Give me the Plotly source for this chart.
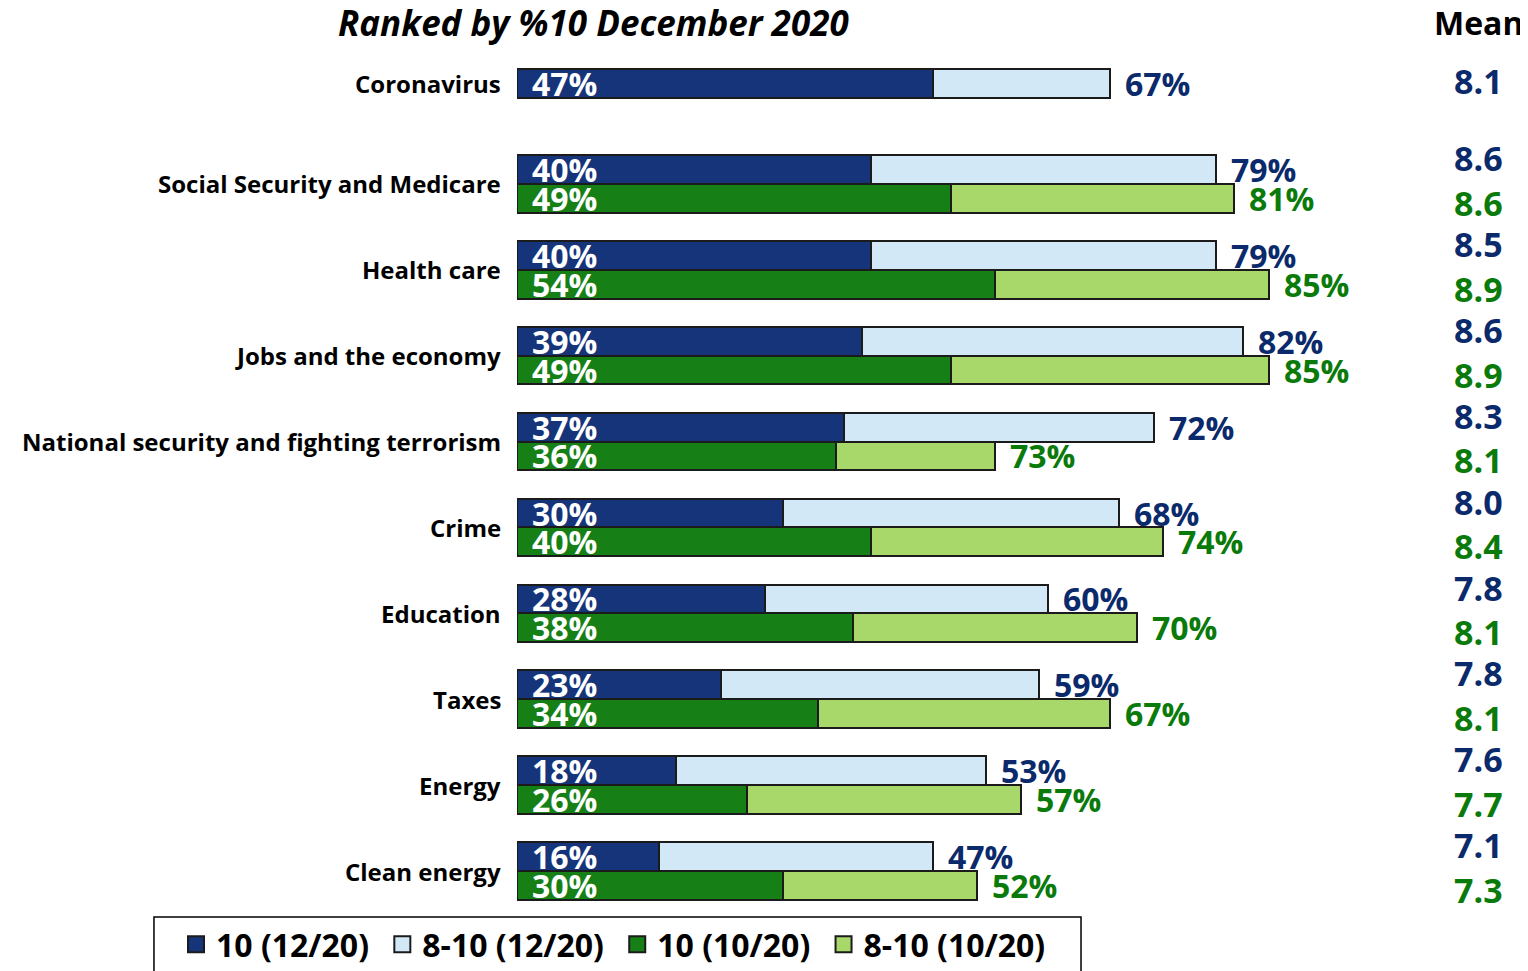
import plotly.graph_objects as go

categories = ["Coronavirus", "Social Security and Medicare", "Health care",
              "Jobs and the economy", "National security and fighting terrorism",
              "Crime", "Education", "Taxes", "Energy", "Clean energy"]
dec_10 = [47, 40, 40, 39, 37, 30, 28, 23, 18, 16]
dec_8_10 = [67, 79, 79, 82, 72, 68, 60, 59, 53, 47]
oct_10 = [None, 49, 54, 49, 36, 40, 38, 34, 26, 30]
oct_8_10 = [None, 81, 85, 85, 54, 73, 70, 67, 57, 52]          # bar lengths as drawn
dec_8_10_labels = ["67%", "79%", "79%", "82%", "72%", "68%", "60%", "59%", "53%", "47%"]
oct_8_10_labels = ["", "81%", "85%", "85%", "73%", "74%", "70%", "67%", "57%", "52%"]
mean_dec = [8.1, 8.6, 8.5, 8.6, 8.3, 8.0, 7.8, 7.8, 7.6, 7.1]
mean_oct = [None, 8.6, 8.9, 8.9, 8.1, 8.4, 8.1, 8.1, 7.7, 7.3]
legend_names = ["10 (12/20)", "8-10 (12/20)", "10 (10/20)", "8-10 (10/20)"]

FONT = "Open Sans"
C_DB, C_LB, C_DG, C_LG = "#16347a", "#d3e8f7", "#168016", "#a8d86a"
T_BLUE, T_GREEN = "#0b2a6b", "#0a7a0a"
D, W = 0.168, 0.335
VAL = 32

idx = list(range(len(categories)))
has_oct = [v is not None for v in oct_10]
yb = [i - D for i in idx]
yg = [i + D for i, h in zip(idx, has_oct) if h]
og10 = [v for v in oct_10 if v is not None]
og810 = [v for v in oct_8_10 if v is not None]

line = dict(color="#1b1b1b", width=2)
colors = [C_DB, C_LB, C_DG, C_LG]
fig = go.Figure()
fig.add_bar(y=yb, x=dec_10, orientation="h", width=W, showlegend=False,
            marker=dict(color=C_DB, line=line))
fig.add_bar(y=yb, x=[t - d for t, d in zip(dec_8_10, dec_10)], orientation="h", width=W,
            showlegend=False, marker=dict(color=C_LB, line=line))
fig.add_bar(y=yg, x=og10, orientation="h", width=W, showlegend=False,
            marker=dict(color=C_DG, line=line))
fig.add_bar(y=yg, x=[t - d for t, d in zip(og810, og10)], orientation="h", width=W,
            showlegend=False, marker=dict(color=C_LG, line=line))
# legend entries (square swatches)
for k, (name, col) in enumerate(zip(legend_names, colors)):
    pad = "\u00a0" if k < len(legend_names) - 1 else ""
    fig.add_scatter(x=[None], y=[None], mode="markers", name=name + pad,
                    marker=dict(symbol="square", size=20, color=col,
                                line=dict(color="#1b1b1b", width=2)))


def f(size, color, **kw):
    return dict(family=FONT, size=size, color=color, weight="bold", **kw)


ann = []
for i, c in enumerate(categories):
    ycat = i if has_oct[i] else i - D
    ann.append(dict(x=0, y=ycat, text=c, showarrow=False, xanchor="right", xshift=-14,
                    font=f(24, "black")))
for i in idx:
    ann.append(dict(x=0, y=yb[i], text=f"{dec_10[i]}%", showarrow=False, xanchor="left",
                    xshift=13, font=f(VAL, "white")))
    ann.append(dict(x=dec_8_10[i], y=yb[i], text=dec_8_10_labels[i], showarrow=False,
                    xanchor="left", xshift=13, font=f(VAL, T_BLUE)))
    ann.append(dict(x=1.0859, xref="paper", y=(i - 0.3) if has_oct[i] else (i - 0.2),
                    text=f"{mean_dec[i]:.1f}", showarrow=False, xanchor="center",
                    font=f(34, T_BLUE)))
    if has_oct[i]:
        ann.append(dict(x=0, y=i + D, text=f"{oct_10[i]}%", showarrow=False, xanchor="left",
                        xshift=13, font=f(VAL, "white")))
        ann.append(dict(x=oct_8_10[i], y=i + D, text=oct_8_10_labels[i], showarrow=False,
                        xanchor="left", xshift=13, font=f(VAL, T_GREEN)))
        ann.append(dict(x=1.0859, xref="paper", y=i + 0.22, text=f"{mean_oct[i]:.1f}",
                        showarrow=False, xanchor="center", font=f(34, T_GREEN)))

ann.append(dict(x=1.0859, xref="paper", y=1.0375, yref="paper", text="Mean", showarrow=False,
                xanchor="center", yanchor="middle", font=f(32, "black")))
ann.append(dict(x=0.0859, xref="paper", y=1.0375, yref="paper",
                text="Ranked by %10 December 2020", showarrow=False,
                xanchor="center", yanchor="middle", font=f(35, "black", style="italic")))

fig.update_layout(
    width=1520, height=963, barmode="stack",
    margin=dict(l=509, r=126, t=47, b=57, autoexpand=False),
    paper_bgcolor="white", plot_bgcolor="white",
    xaxis=dict(range=[0, 100], visible=False),
    yaxis=dict(range=[9.5, -0.5], visible=False),
    annotations=ann,
    shapes=[dict(type="rect", xref="paper", yref="paper", x0=-0.4102, x1=0.6373,
                 y0=-0.075, y1=-0.0035, line=dict(color="black", width=1.5),
                 fillcolor="rgba(0,0,0,0)", layer="below")],
    showlegend=True,
    legend=dict(orientation="h", x=-0.3853, xanchor="left", y=-0.0035, yanchor="top",
                borderwidth=0, bgcolor="rgba(0,0,0,0)",
                font=f(32, "black"), traceorder="normal", itemwidth=30,
                itemsizing="trace"),
)

fig.write_html("out.html")
